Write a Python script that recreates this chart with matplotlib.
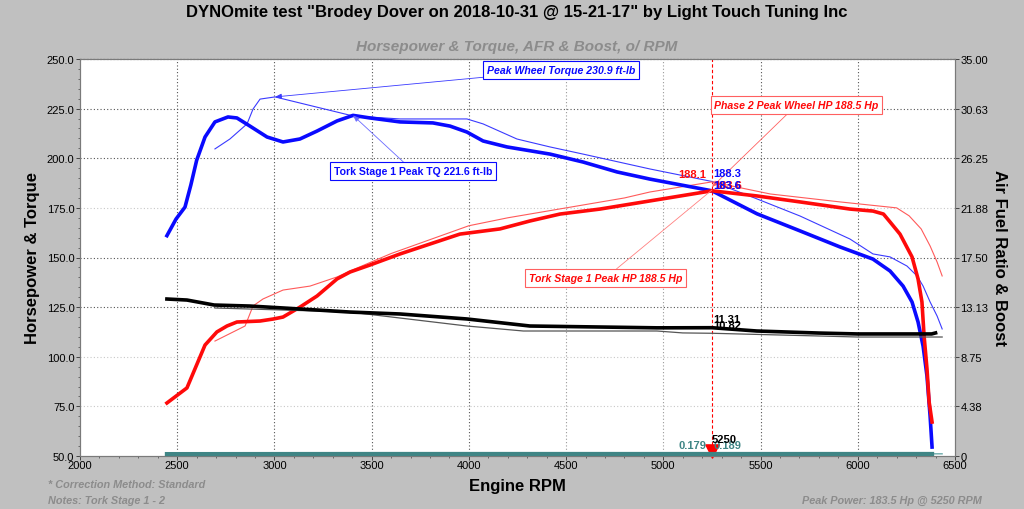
import matplotlib as mpl
from matplotlib import pyplot as plt
from matplotlib.ticker import MultipleLocator, FixedLocator

mpl.use("Agg")
mpl.rcParams["font.family"] = ["Liberation Sans", "DejaVu Sans"]

# --- run 1 ("Tork Stage 1", thick lines) ---
tq1_rpm = [2447, 2494, 2540, 2570, 2600, 2643, 2694, 2761, 2807, 2874, 2962, 3044, 3131,
           3219, 3322, 3404, 3491, 3646, 3815, 3903, 3990, 4073, 4196, 4417, 4587, 4762,
           4931, 5250, 5482, 5703, 5909, 6078, 6166, 6233, 6279, 6310, 6336, 6356, 6372, 6382]
tq1 = [161.0, 169.4, 175.4, 186.5, 199.0, 210.7, 218.3, 220.8, 220.3, 216.2, 210.7, 208.2,
       209.7, 213.7, 218.8, 221.6, 220.3, 218.3, 217.8, 216.2, 213.2, 208.7, 205.7, 202.1,
       198.1, 193.1, 189.5, 183.6, 172.0, 163.4, 155.3, 149.2, 143.2, 135.6, 127.6, 117.5,
       105.3, 90.2, 70.0, 54.5]

hp1_rpm = [2447, 2550, 2643, 2704, 2756, 2807, 2926, 2993, 3044, 3131, 3219, 3322, 3389,
           3491, 3646, 3800, 3954, 4160, 4314, 4469, 4674, 4931, 5250, 5482, 5703, 5960,
           6078, 6132, 6166, 6217, 6279, 6310, 6330, 6341, 6356, 6367, 6382]
hp1 = [76.7, 84.3, 105.9, 112.5, 115.5, 117.5, 118.0, 119.0, 120.0, 125.0, 130.6, 139.2,
       142.7, 146.2, 151.8, 156.8, 161.8, 164.4, 168.4, 171.9, 174.4, 178.5, 183.6, 181.0,
       178.0, 174.4, 173.4, 171.9, 167.9, 161.8, 150.3, 139.2, 127.6, 110.5, 93.8, 77.2, 67.1]

afr1_rpm = [2447, 2550, 2690, 2874, 3044, 3219, 3389, 3646, 3990, 4314, 4967, 5250, 5480,
            5800, 6000, 6380, 6400]
afr1 = [13.84, 13.75, 13.31, 13.22, 13.05, 12.87, 12.69, 12.52, 12.08, 11.46, 11.30, 11.31,
        11.02, 10.84, 10.76, 10.76, 10.85]

boost1_rpm = [2447, 3500, 4500, 5250, 6382]
boost1 = [0.17, 0.18, 0.18, 0.179, 0.18]

# --- run 2 ("Phase 2", thin lines) ---
tq2_rpm = [2694, 2771, 2859, 2890, 2926, 3003, 3404, 3646, 3903, 3990, 4073, 4247, 4417,
           4587, 4931, 5250, 5482, 5703, 5960, 6078, 6166, 6253, 6305, 6336, 6372, 6408, 6434]
tq2 = [204.7, 209.7, 217.3, 224.8, 229.8, 230.9, 221.3, 219.8, 219.8, 219.8, 217.3, 209.7,
       205.7, 202.1, 194.6, 188.3, 179.5, 170.9, 159.3, 151.8, 150.3, 145.7, 140.7, 135.6,
       127.6, 120.5, 114.0]

hp2_rpm = [2694, 2849, 2890, 2941, 3044, 3183, 3322, 3389, 3600, 3800, 4000, 4200, 4500,
           4800, 4931, 5250, 5550, 5909, 6200, 6264, 6326, 6372, 6408, 6434]
hp2 = [107.9, 115.5, 125.6, 129.1, 133.6, 135.6, 140.2, 143.2, 152.0, 159.0, 166.0, 170.0,
       175.0, 180.0, 183.0, 188.1, 182.0, 178.0, 175.0, 171.0, 164.4, 155.8, 147.7, 140.7]

afr2_rpm = [2694, 3044, 3389, 3990, 4280, 4967, 5100, 5250, 5800, 6000, 6434]
afr2 = [13.05, 12.87, 12.69, 11.46, 11.02, 11.02, 10.85, 10.82, 10.58, 10.49, 10.49]

boost2_rpm = [2694, 4000, 5250, 6434]
boost2 = [0.19, 0.19, 0.189, 0.19]

cursor_rpm = 5250
left_ticks = [50, 75, 100, 125, 150, 175, 200, 225, 250]
right_ticks = [0, 4.375, 8.75, 13.125, 17.5, 21.875, 26.25, 30.625, 35]
right_labels = ["0", "4.38", "8.75", "13.13", "17.50", "21.88", "26.25", "30.63", "35.00"]
x_ticks = [2000, 2500, 3000, 3500, 4000, 4500, 5000, 5500, 6000, 6500]

BG = "#c0c0c0"
GRAY_TXT = "#8c8c8c"
TEAL = "#3f8585"
BLUE = "#0a0aff"
RED = "#ff0a0a"

fig = plt.figure(figsize=(10.24, 5.10), dpi=100, facecolor=BG)
ax = fig.add_axes([80 / 1024, 1 - 457 / 510, 875 / 1024, 397 / 510])
ax2 = ax.twinx()

ax.set_xlim(2000, 6500)
ax.set_ylim(50, 250)
ax2.set_ylim(0, 35)

# grid
dark_y = [125, 150, 200, 225]
for t in left_ticks[1:-1]:
    c = "#555555" if t in dark_y else "#c8c8c8"
    ax.axhline(t, color=c, lw=0.8, ls=(0, (1, 2)), zorder=0)
light_x = [4500, 5000]
for t in x_ticks[1:-1]:
    c = "#9a9a9a" if t in light_x else "#555555"
    ax.axvline(t, color=c, lw=0.8, ls=(0, (1, 2)), zorder=0)

# run 2 thin lines
ax.plot(tq2_rpm, tq2, color="#3a3aff", lw=0.8, zorder=3)
ax.plot(hp2_rpm, hp2, color="#ff5a5a", lw=0.8, zorder=3)
ax2.plot(afr2_rpm, afr2, color="#555555", lw=0.9, zorder=3)
ax2.plot(boost2_rpm, boost2, color="#5aa0a0", lw=0.9, zorder=3)

# run 1 thick lines
ax.plot(tq1_rpm, tq1, color=BLUE, lw=2.6, zorder=4)
ax.plot(hp1_rpm, hp1, color=RED, lw=2.6, zorder=4)
ax2.plot(afr1_rpm, afr1, color="black", lw=2.6, zorder=4)
ax2.plot(boost1_rpm, boost1, color=TEAL, lw=3.0, zorder=4, clip_on=False)

# cursor
ax.axvline(cursor_rpm, color="red", lw=0.8, ls=(0, (3, 2)), zorder=2)
ax.scatter([cursor_rpm], [0.012], marker="v", s=90, color="red", zorder=6,
           transform=ax.get_xaxis_transform(), clip_on=False)

# peak annotations
box_kw = dict(boxstyle="square,pad=0.35", fc="white", lw=0.8)
i_tq2 = tq2.index(max(tq2))
ax.annotate(f"Peak Wheel Torque {max(tq2):.1f} ft-lb", xy=(tq2_rpm[i_tq2], tq2[i_tq2]),
            xytext=(4474, 244.5), ha="center", va="center", fontsize=7.6,
            fontweight="bold", style="italic", color=BLUE,
            bbox=dict(box_kw, ec=BLUE),
            arrowprops=dict(arrowstyle="-|>,head_length=0.5,head_width=0.2",
                            color="#3a3aff", lw=0.6, shrinkA=0, shrinkB=0), zorder=7)
i_tq1 = tq1.index(max(tq1))
ax.annotate(f"Tork Stage 1 Peak TQ {max(tq1):.1f} ft-lb", xy=(tq1_rpm[i_tq1], tq1[i_tq1]),
            xytext=(3713, 193.6), ha="center", va="center", fontsize=7.6,
            fontweight="bold", color=BLUE,
            bbox=dict(box_kw, ec=BLUE),
            arrowprops=dict(arrowstyle="-|>,head_length=0.5,head_width=0.2",
                            color="#6a6aff", lw=0.6, shrinkA=0, shrinkB=0), zorder=7)
ax.annotate("Phase 2 Peak Wheel HP 188.5 Hp", xy=(cursor_rpm, 185.5),
            xytext=(5685, 226.8), ha="center", va="center", fontsize=7.6,
            fontweight="bold", style="italic", color=RED,
            bbox=dict(box_kw, ec="#ff6060"),
            arrowprops=dict(arrowstyle="-|>,head_length=0.5,head_width=0.2",
                            color="#ff6060", lw=0.6, shrinkA=0, shrinkB=0), zorder=7)
ax.annotate("Tork Stage 1 Peak HP 188.5 Hp", xy=(cursor_rpm, 184),
            xytext=(4703, 139.7), ha="center", va="center", fontsize=7.6,
            fontweight="bold", style="italic", color=RED,
            bbox=dict(box_kw, ec="#ff6060"),
            arrowprops=dict(arrowstyle="-", color="#ff8080", lw=0.6,
                            shrinkA=0, shrinkB=0), zorder=7)

# cursor value readouts
val_kw = dict(textcoords="offset points", fontsize=8, fontweight="bold", va="center", zorder=8)
ax.annotate("188.1", xy=(cursor_rpm, 188.1), xytext=(-4, 6), ha="right", color=RED, **val_kw)
ax.annotate("188.3", xy=(cursor_rpm, 188.3), xytext=(1, 6), ha="left", color=BLUE, **val_kw)
ax.annotate("183.6", xy=(cursor_rpm, 183.6), xytext=(1.5, 4), ha="left", color=RED, **val_kw)
ax.annotate("183.6", xy=(cursor_rpm, 183.6), xytext=(1, 4), ha="left", color=BLUE, **val_kw)
ax2.annotate("11.31", xy=(cursor_rpm, 11.31), xytext=(1, 6), ha="left", color="black", **val_kw)
ax2.annotate("10.82", xy=(cursor_rpm, 10.82), xytext=(1, 6), ha="left", color="black", **val_kw)
ax2.annotate("0.179", xy=(cursor_rpm, 0.179), xytext=(-4, 6.5), ha="right", color=TEAL, **val_kw)
ax2.annotate("0.189", xy=(cursor_rpm, 0.189), xytext=(1, 6.5), ha="left", color=TEAL, **val_kw)
ax2.annotate(f"{cursor_rpm}", xy=(cursor_rpm, 0), xytext=(0, 12), ha="left",
             color="black", **val_kw)

# axes styling
ax.set_xticks(x_ticks)
ax.xaxis.set_minor_locator(MultipleLocator(100))
ax.set_yticks(left_ticks)
ax.set_yticklabels([f"{t:.1f}" for t in left_ticks])
ax.yaxis.set_minor_locator(MultipleLocator(5))
ax2.yaxis.set_major_locator(FixedLocator(right_ticks))
ax2.set_yticklabels(right_labels)
for a in (ax, ax2):
    a.tick_params(axis="both", which="major", length=3, width=0.7, labelsize=8,
                  pad=1, color="#444444")
    a.tick_params(axis="both", which="minor", length=1.5, width=0.5, color="#444444")
    for s in a.spines.values():
        s.set_color("#7a7a7a")
        s.set_linewidth(0.8)
ax.spines["top"].set_color("black")
ax.spines["top"].set_linestyle((0, (1, 2)))
ax.tick_params(axis="x", pad=0)

ax.set_xlabel("Engine RPM", fontsize=12, fontweight="bold", labelpad=6)
ax.set_ylabel("Horsepower & Torque", fontsize=12, fontweight="bold", labelpad=5)
ax2.set_ylabel("Air Fuel Ratio & Boost", fontsize=12, fontweight="bold",
               rotation=270, labelpad=13)

fig.text(0.505, 1 - 12 / 510, 'DYNOmite test "Brodey Dover on 2018-10-31 @ 15-21-17" by Light Touch Tuning Inc',
         ha="center", va="center", fontsize=12, fontweight="bold")
fig.text(0.505, 1 - 47 / 510, "Horsepower & Torque, AFR & Boost, o/ RPM",
         ha="center", va="center", fontsize=11, fontweight="bold", style="italic",
         color=GRAY_TXT)
foot_kw = dict(fontsize=7.8, fontweight="bold", style="italic", color=GRAY_TXT, va="center")
fig.text(48 / 1024, 1 - 485 / 510, "* Correction Method: Standard", ha="left", **foot_kw)
fig.text(48 / 1024, 1 - 501 / 510, "Notes: Tork Stage 1 - 2", ha="left", **foot_kw)
fig.text(982 / 1024, 1 - 501 / 510, "Peak Power: 183.5 Hp @ 5250 RPM", ha="right", **foot_kw)

fig.savefig("out.png", dpi=100, facecolor=BG)
plt.close(fig)
